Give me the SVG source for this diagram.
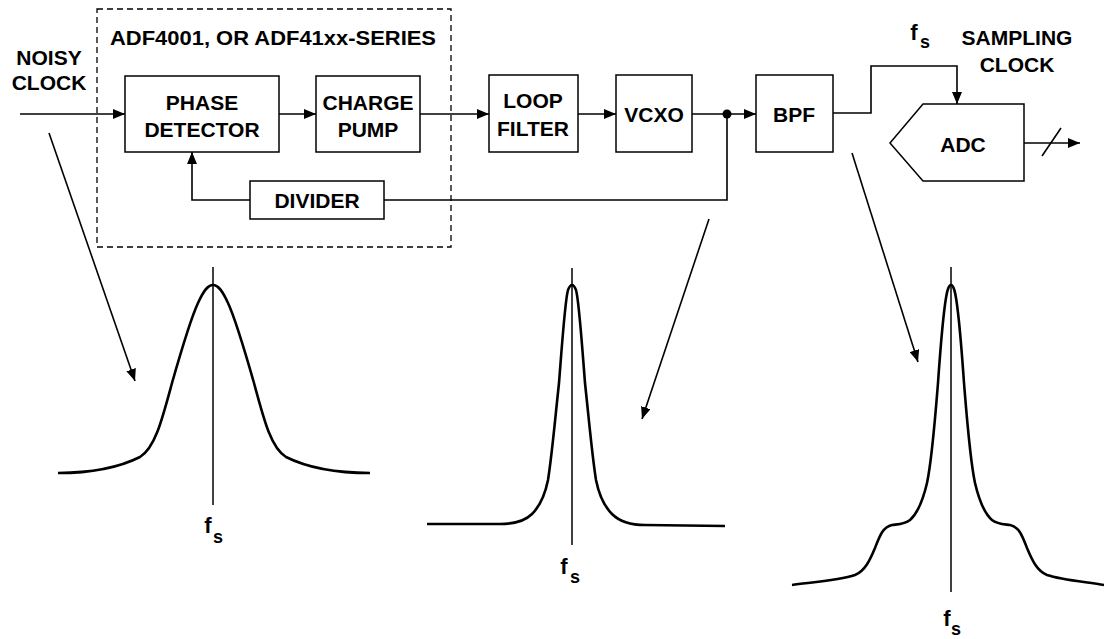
<svg xmlns="http://www.w3.org/2000/svg" width="1104" height="639" viewBox="0 0 1104 639">
<style>
text{font-family:"Liberation Sans",Arial,sans-serif;font-weight:bold;fill:#000;text-anchor:middle}
.t{font-size:21px}
.f{font-size:22px}
.sub{font-size:18px}
.box{fill:#fff;stroke:#000;stroke-width:1.5}
.ln{fill:none;stroke:#000;stroke-width:1.6}
.cv{fill:none;stroke:#000;stroke-width:2.6;stroke-linejoin:round}
.ax{fill:none;stroke:#000;stroke-width:1.5}
</style>
<defs>
<marker id="ah" markerUnits="userSpaceOnUse" markerWidth="13" markerHeight="10" refX="12" refY="5" orient="auto">
<path d="M0,0 L12,5 L0,10 Z" fill="#000"/>
</marker>
</defs>
<rect x="97" y="9" width="354" height="238" fill="none" stroke="#000" stroke-width="1.3" stroke-dasharray="6,4"/>
<text class="t" x="273" y="45" textLength="326" lengthAdjust="spacingAndGlyphs">ADF4001, OR ADF41xx-SERIES</text>
<text class="t" x="49" y="65">NOISY</text>
<text class="t" x="49" y="90">CLOCK</text>
<g id="connectors">
<line class="ln" x1="20" y1="114" x2="125" y2="114" marker-end="url(#ah)"/>
<line class="ln" x1="279" y1="114" x2="316" y2="114" marker-end="url(#ah)"/>
<line class="ln" x1="420" y1="114" x2="489" y2="114" marker-end="url(#ah)"/>
<line class="ln" x1="578" y1="114" x2="616" y2="114" marker-end="url(#ah)"/>
<line class="ln" x1="692" y1="114" x2="756" y2="114" marker-end="url(#ah)"/>
<polyline class="ln" points="727,114 727,200 384,200"/>
<polyline class="ln" points="250,200 192,200 192,152" marker-end="url(#ah)"/>
<polyline class="ln" points="833,113 871,113 871,66 957,66 957,104" marker-end="url(#ah)"/>
<line class="ln" x1="1024" y1="143" x2="1080" y2="143" marker-end="url(#ah)"/>
<line class="ln" x1="1042" y1="156" x2="1061" y2="128"/>
<circle cx="727" cy="114" r="4.5" fill="#000"/>
<line class="ln" x1="49" y1="133" x2="135" y2="381" marker-end="url(#ah)"/>
<line class="ln" x1="709" y1="219" x2="642" y2="419" marker-end="url(#ah)"/>
<line class="ln" x1="852" y1="153" x2="918" y2="362" marker-end="url(#ah)"/>
</g>
<g id="phase-detector">
<rect class="box" x="125" y="76" width="154" height="76"/>
<text class="t" x="202" y="110">PHASE</text>
<text class="t" x="202" y="137">DETECTOR</text>
</g>
<g id="charge-pump">
<rect class="box" x="316" y="76" width="104" height="76"/>
<text class="t" x="368" y="110">CHARGE</text>
<text class="t" x="368" y="137">PUMP</text>
</g>
<g id="loop-filter">
<rect class="box" x="489" y="75" width="89" height="77"/>
<text class="t" x="533" y="108">LOOP</text>
<text class="t" x="533" y="136">FILTER</text>
</g>
<g id="vcxo">
<rect class="box" x="616" y="75" width="76" height="77"/>
<text class="t" x="654" y="122">VCXO</text>
</g>
<g id="bpf">
<rect class="box" x="756" y="75" width="77" height="77"/>
<text class="t" x="794" y="122">BPF</text>
</g>
<g id="divider">
<rect class="box" x="250" y="181" width="134" height="38"/>
<text class="t" x="317" y="208">DIVIDER</text>
</g>
<g id="adc">
<polygon class="box" points="923,104 1024,104 1024,181 923,181 890,143"/>
<text class="t" x="963" y="152">ADC</text>
</g>
<g id="sampling-label">
<text class="f" x="914" y="40">f</text>
<text class="sub" x="925" y="48">s</text>
<text class="t" x="1017" y="45">SAMPLING</text>
<text class="t" x="1017" y="72">CLOCK</text>
</g>
<g id="spectrum-noisy">
<line class="ax" x1="213" y1="267" x2="213" y2="505"/>
<path class="cv" d="M58,473 C95,473 120,467 140,457 C155,448 162,420 172,383 C180,355 190,320 198,303 C204,290 208,285 213,285 C218,285 222,290 228,303 C236,320 246,355 254,383 C264,420 271,448 286,457 C306,467 331,473 370,473"/>
<text class="f" x="208" y="533">f</text>
<text class="sub" x="218" y="543">s</text>
</g>
<g id="spectrum-vcxo">
<line class="ax" x1="572" y1="268" x2="572" y2="545"/>
<path class="cv" d="M427,524 L500,524 C515,524 525,521 532,514 C540,506 545,495 548,480 C552,455 555,420 559,383 C562,345 565,300 568,290 C570,285 571,285 572,285 C573,285 574,285 576,290 C579,300 582,345 585,383 C589,420 592,455 596,480 C599,495 604,506 612,514 C619,521 630,525 645,525 L725,526"/>
<text class="f" x="564" y="574">f</text>
<text class="sub" x="575" y="583">s</text>
</g>
<g id="spectrum-bpf">
<line class="ax" x1="951" y1="267" x2="951" y2="592"/>
<path class="cv" d="M792,585 C815,582 840,580 855,575 C865,571 870,560 875,548 C880,535 883,527 892,525 C900,524 905,524 910,520 C918,513 923,500 927,483 C932,460 935,420 938,383 C941,340 944,300 948,289 C949,286 950,285 951,285 C952,285 953,286 954,289 C958,300 961,340 964,383 C967,420 970,460 975,483 C979,500 984,513 992,520 C997,524 1002,524 1010,525 C1019,527 1022,535 1027,548 C1032,560 1037,571 1047,575 C1062,580 1087,582 1104,585"/>
<text class="f" x="947" y="626">f</text>
<text class="sub" x="956" y="635">s</text>
</g>
</svg>
